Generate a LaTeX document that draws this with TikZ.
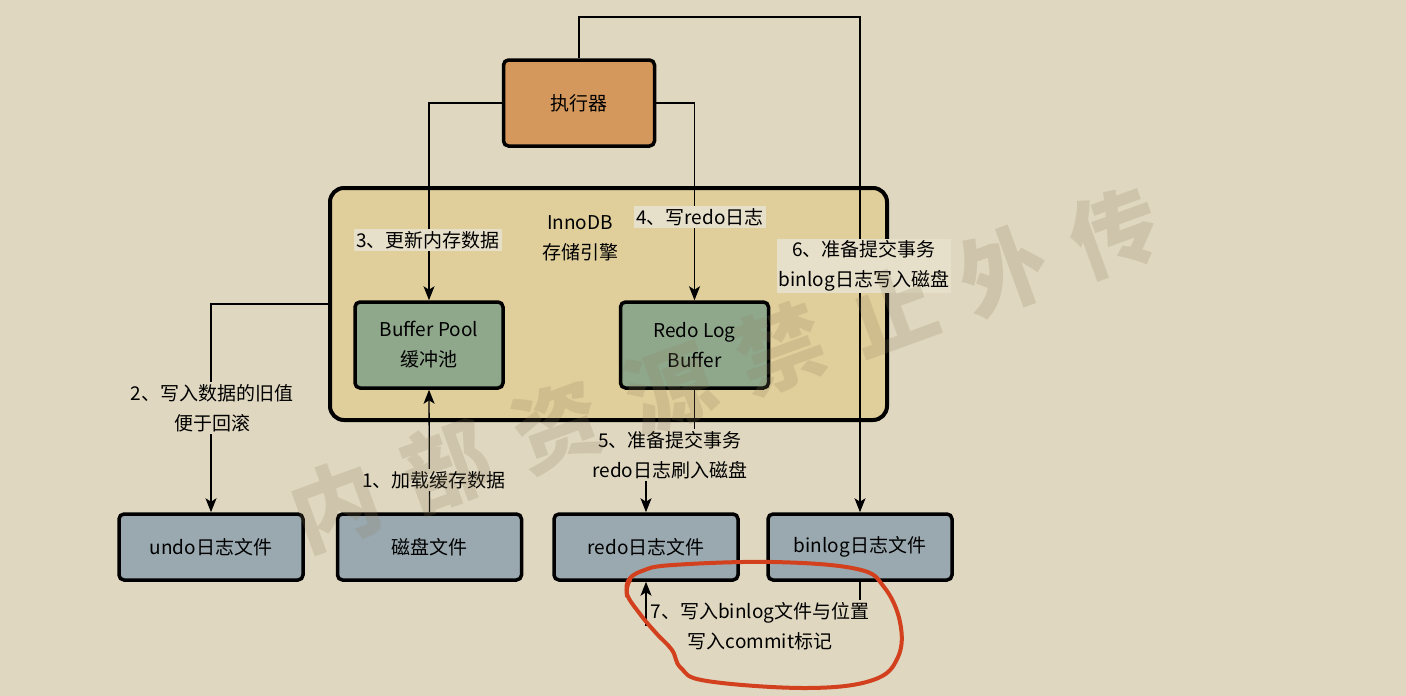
\documentclass[tikz,border=0pt]{standalone}
\usepackage{fontspec}
\setmainfont{Noto Sans CJK SC}
\usetikzlibrary{arrows.meta}

\definecolor{pagebg}{HTML}{DFD7BF}
\definecolor{enginefill}{HTML}{E0CE9B}
\definecolor{execfill}{HTML}{D4985C}
\definecolor{bufferfill}{HTML}{8FA88C}
\definecolor{filefill}{HTML}{9AA9B0}
\definecolor{labelbg}{HTML}{E6DFC9}
\definecolor{pen}{HTML}{D2401E}
\definecolor{stamp}{HTML}{8C7C5C}

\tikzset{
  every node/.style={font=\fontsize{19}{30}\selectfont, align=center},
  block/.style={draw=black, rounded corners=5pt, line width=3.5pt, inner sep=0pt},
  execbox/.style={block, fill=execfill, minimum width=151pt, minimum height=86pt},
  bufbox/.style={block, fill=bufferfill, minimum width=148pt, minimum height=86pt},
  filebox/.style={block, fill=filefill, minimum width=184pt, minimum height=66pt},
  enginebox/.style={draw=black, rounded corners=14pt, line width=4pt, fill=enginefill,
    minimum width=557pt, minimum height=232pt, inner sep=0pt},
  flow/.style={draw=black, line width=1.3pt, -{Stealth[length=14pt,width=11pt,inset=3.5pt]}},
  steplabel/.style={fill=labelbg, inner sep=2pt},
  outerlabel/.style={fill=pagebg, inner sep=2pt},
  wm/.style={text=stamp, text opacity=0.2, font=\fontsize{88}{88}\selectfont\bfseries, rotate=20}
}

\begin{document}
\begin{tikzpicture}[x=1pt, y=-1pt]
  % page
  \fill[pagebg] (0,0) rectangle (1406,696);
  \useasboundingbox (0,0) rectangle (1406,696);

  % storage engine container and its parts
  \node[enginebox] (innodb) at (608.5,304) {};
  \node (innodbtxt) at (580,238) {InnoDB\\存储引擎};
  \node[bufbox] (bp) at (429,345) {Buffer Pool\\缓冲池};
  \node[bufbox] (rlb) at (694.5,345) {Redo Log\\Buffer};

  % executor
  \node[execbox] (exec) at (579,103) {执行器};

  % files on disk
  \node[filebox] (undo) at (211,547) {undo日志文件};
  \node[filebox] (disk) at (429.5,547) {磁盘文件};
  \node[filebox] (redo) at (646,547) {redo日志文件};
  \node[filebox] (binlog) at (860,547) {binlog日志文件};

  % bend points
  \coordinate (top6) at (860,17);
  \coordinate (bend5) at (670,455);
  \coordinate (bend7) at (760,625);

  % connectors
  \draw[flow] (exec.north) |- (top6) -- (binlog.north);
  \draw[flow] (exec.west) -| (bp.north);
  \draw[flow] (exec.east) -| (rlb.north);
  \draw[flow] (disk.north) -- (bp.south);
  \draw[flow] (innodb.west) -| (undo.north);
  \draw[flow] (rlb.south) |- (bend5) -| (redo.north);
  \draw[flow] (binlog.south) |- (bend7) -| (redo.south);

  % step labels
  \node[outerlabel] (l1) at (434,480) {1、加载缓存数据};
  \node[outerlabel] (l2) at (212,408) {2、写入数据的旧值\\便于回滚};
  \node[steplabel] (l3) at (428,240) {3、更新内存数据};
  \node[steplabel] (l4) at (700,217) {4、写redo日志};
  \node[outerlabel] (l5) at (670,455) {5、准备提交事务\\redo日志刷入磁盘};
  \node[steplabel] (l6) at (864,266) {6、准备提交事务\\binlog日志写入磁盘};
  \node[outerlabel] (l7) at (760,626) {7、写入binlog文件与位置\\写入commit标记};

  % hand-drawn ring around step 7
  \draw[pen, line width=4pt, line cap=round, line join=round]
    plot[smooth, tension=0.65] coordinates {
      (627,596) (628,581) (642,571) (673,565) (773,562) (857,569) (884,587)
      (900,622) (898,657) (873,680) (807,688) (707,681) (681,668) (672,650)
      (656,633) (640,614) (627,594) (630,580)};

  % faint stamp across the page
  \foreach \ch [count=\i] in {内,部,资,源,禁,止,外,传} {
    \node[wm] (wm\i) at ({335+(\i-1)*111.4},{505-(\i-1)*39}) {\ch};
  }
\end{tikzpicture}
\end{document}
